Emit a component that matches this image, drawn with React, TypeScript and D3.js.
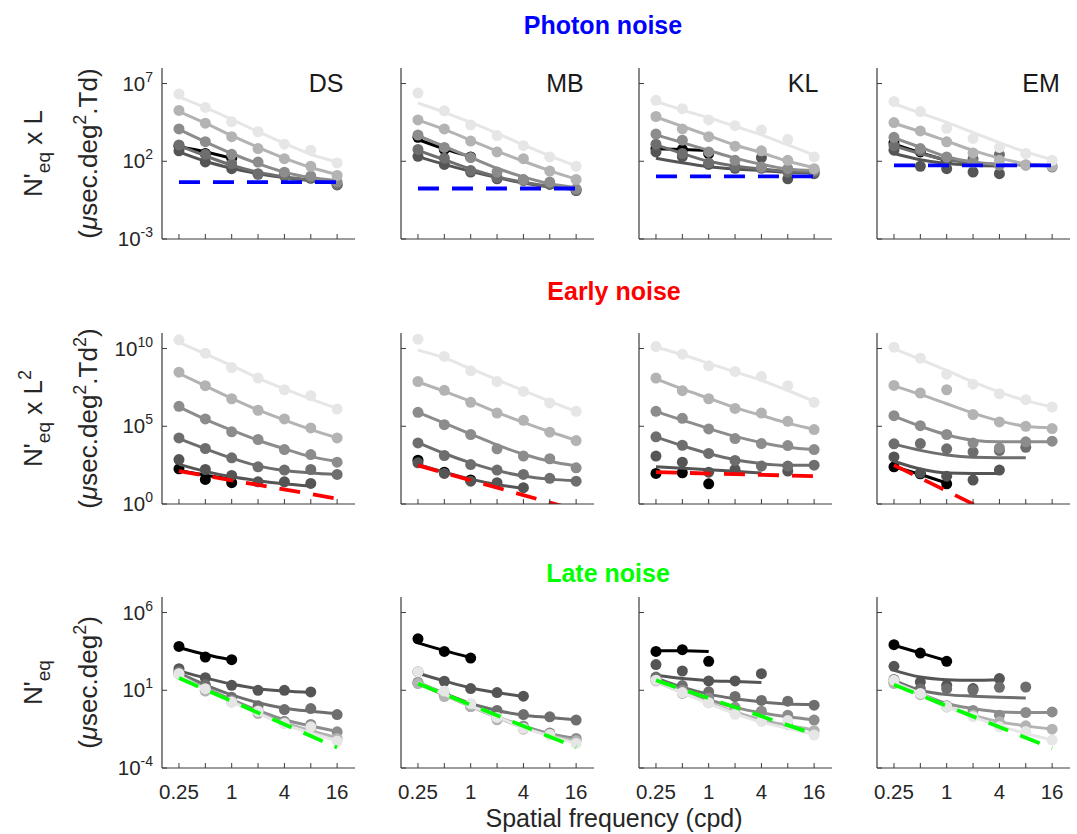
import React from "react";
import * as d3 from "d3";

// spatial frequencies (cpd) used on every panel
const FREQS = [0.25, 0.5, 1, 2, 4, 8, 16];
const FREQ_LABELS = ["0.25", "", "1", "", "4", "", "16"];
const SUBJECTS = ["DS", "MB", "KL", "EM"];
// luminance levels, darkest -> lightest
const SHADES = ["#000000", "#555555", "#6e6e6e", "#8c8c8c", "#b3b3b3", "#e6e6e6"];

const _ = null;

// all values are log10(N'eq ...), one array per luminance level
// ---- Photon noise ----
const dsPhotonDots = [
  [2.97, 2.5, 2.2, _, _, _, _],
  [2.67, 1.96, 1.52, 1.16, 1.1, 0.9, 0.48],
  [3.05, 2.45, 1.85, 1.2, 1.05, 0.95, 0.5],
  [4.08, 3.26, 2.45, 1.95, 1.3, 1.05, 0.66],
  [5.27, 4.45, 3.58, 2.82, 2.17, 1.68, 1.09],
  [6.33, 5.46, 4.55, 3.9, 3.1, 2.71, 1.89],
];
const dsPhotonFit = [
  [2.95, 2.6, 2.2, _, _, _, _],
  [2.6, 2.0, 1.55, 1.2, 0.95, 0.75, 0.6],
  [3.0, 2.35, 1.75, 1.3, 1.0, 0.8, 0.6],
  [4.05, 3.25, 2.5, 1.85, 1.3, 0.95, 0.75],
  [5.2, 4.45, 3.65, 2.9, 2.2, 1.6, 1.15],
  [6.15, 5.45, 4.7, 3.9, 3.15, 2.45, 1.95],
];
const mbPhotonDots = [
  [3.54, 2.76, 2.28, _, _, _, _],
  [2.32, 1.8, 1.31, 0.87, 0.81, 0.51, 0.12],
  [2.76, 2.2, 1.4, 0.95, 0.75, 0.55, 0.15],
  [3.69, 2.89, 2.24, 1.31, 0.81, 0.66, 0.23],
  [4.66, 4.08, 3.3, 2.6, 2.17, 1.37, 0.83],
  [6.39, 5.25, 4.34, 3.65, 3.0, 2.28, 1.68],
];
const mbPhotonFit = [
  [3.4, 2.8, 2.3, _, _, _, _],
  [2.3, 1.8, 1.35, 0.95, 0.6, 0.35, 0.2],
  [2.7, 2.1, 1.5, 1.0, 0.65, 0.4, 0.25],
  [3.65, 2.95, 2.25, 1.55, 1.0, 0.55, 0.3],
  [4.65, 4.05, 3.35, 2.65, 2.0, 1.4, 0.85],
  [5.75, 5.15, 4.5, 3.8, 3.05, 2.35, 1.7],
];
const klPhotonDots = [
  [2.82, 2.76, 2.5, _, _, _, _],
  [2.6, 2.3, 1.8, 1.55, 2.24, 0.87, 1.2],
  [3.1, 2.5, 1.9, 1.65, 1.55, 1.3, 1.3],
  [3.75, 3.36, 2.6, 2.06, 1.63, 1.52, 1.42],
  [4.88, 4.08, 3.58, 2.97, 2.67, 2.06, 1.52],
  [5.92, 5.38, 4.66, 4.29, 4.01, 3.41, 2.28],
];
const klPhotonFit = [
  [2.8, 2.75, 2.7, _, _, _, _],
  [2.2, 1.9, 1.65, 1.5, 1.4, 1.3, 1.25],
  [3.05, 2.5, 2.0, 1.7, 1.5, 1.35, 1.3],
  [3.7, 3.2, 2.7, 2.2, 1.8, 1.5, 1.4],
  [4.85, 4.25, 3.65, 3.05, 2.55, 2.0, 1.6],
  [5.85, 5.3, 4.8, 4.25, 3.7, 3.05, 2.4],
];
const emPhotonDots = [
  [3.19, 2.6, 2.06, _, _, _, _],
  [2.71, 1.68, 1.52, 1.31, 1.2, _, _],
  [3.0, 2.67, 2.2, 2.15, 2.43, _, _],
  [3.54, 2.82, 2.28, 1.9, 1.75, 1.75, 1.63],
  [4.49, 3.95, 3.25, 2.54, 2.06, 1.78, 1.7],
  [5.85, 5.2, 4.12, 3.47, 2.89, 2.5, 2.06],
];
const emPhotonFit = [
  [3.1, 2.55, 2.05, _, _, _, _],
  [2.5, 2.1, 1.85, 1.75, 1.7, _, _],
  [3.0, 2.5, 2.1, 1.9, 1.8, _, _],
  [3.5, 2.9, 2.3, 1.95, 1.8, 1.75, 1.7],
  [4.45, 3.9, 3.3, 2.7, 2.2, 1.85, 1.7],
  [5.7, 5.1, 4.5, 3.85, 3.2, 2.6, 2.1],
];

// ---- Early noise ----
const dsEarlyDots = [
  [2.26, 1.58, 1.37, _, _, _, _],
  [2.86, 2.22, 1.84, 1.43, 1.43, 1.32, _],
  [4.25, 3.57, 2.97, 2.39, 2.18, 2.22, 1.9],
  [6.28, 5.47, 4.64, 4.15, 3.5, 3.18, 2.69],
  [8.48, 7.61, 6.77, 6.03, 5.47, 4.89, 4.25],
  [10.56, 9.7, 8.78, 8.1, 7.35, 6.97, 6.11],
];
const dsEarlyFit = [
  [2.15, 1.85, 1.6, _, _, _, _],
  [2.55, 2.1, 1.75, 1.5, 1.3, 1.15, _],
  [4.2, 3.55, 2.95, 2.45, 2.15, 2.0, 1.9],
  [6.25, 5.45, 4.75, 4.1, 3.55, 3.05, 2.75],
  [8.4, 7.6, 6.8, 6.05, 5.4, 4.8, 4.25],
  [10.4, 9.65, 8.9, 8.1, 7.4, 6.75, 6.15],
];
const mbEarlyDots = [
  [2.82, 2.05, 1.55, _, _, _, _],
  [2.65, 1.97, 1.47, 1.37, 1.05, _, _],
  [3.93, 3.12, 2.54, 2.18, 1.9, 1.65, 1.47],
  [5.9, 5.1, 4.47, 3.55, 3.08, 2.91, 2.33],
  [7.88, 7.31, 6.54, 5.85, 5.38, 4.62, 4.08],
  [10.6, 9.49, 8.57, 7.88, 7.24, 6.5, 5.96],
];
const mbEarlyFit = [
  [_, _, _, _, _, _, _],
  [2.55, 2.05, 1.6, 1.25, 1.0, _, _],
  [3.95, 3.25, 2.65, 2.15, 1.8, 1.6, 1.5],
  [5.9, 5.2, 4.5, 3.8, 3.2, 2.75, 2.45],
  [7.85, 7.25, 6.6, 5.9, 5.25, 4.65, 4.1],
  [9.9, 9.4, 8.7, 8.0, 7.3, 6.6, 5.95],
];
const klEarlyDots = [
  [1.97, 2.01, 1.3, _, _, _, _],
  [3.08, 2.69, 2.05, 2.22, _, 2.12, _],
  [4.32, 3.78, 3.25, 2.8, 2.44, 2.44, 2.5],
  [5.96, 5.51, 4.83, 4.21, 3.89, 3.76, 3.5],
  [8.1, 7.29, 6.77, 6.15, 5.85, 5.32, 4.79],
  [10.13, 9.64, 8.89, 8.53, 8.2, 7.61, 6.54],
];
const klEarlyFit = [
  [_, _, _, _, _, _, _],
  [2.4, 2.3, 2.2, 2.1, 2.0, _, _],
  [4.3, 3.75, 3.25, 2.85, 2.6, 2.5, 2.5],
  [5.95, 5.4, 4.85, 4.35, 3.95, 3.65, 3.5],
  [8.05, 7.4, 6.8, 6.2, 5.7, 5.2, 4.8],
  [10.1, 9.6, 9.05, 8.5, 7.95, 7.3, 6.6],
];
const emEarlyDots = [
  [2.39, 1.94, 1.3, _, _, _, _],
  [3.03, 2.0, 1.79, 1.54, 2.18, _, _],
  [3.87, 3.89, 3.55, 3.35, 3.44, 3.65, _],
  [5.68, 5.04, 4.47, 3.93, 3.61, 4.0, 4.04],
  [7.63, 7.14, 7.35, 5.75, 5.28, 5.0, 4.85],
  [10.09, 9.38, 8.35, 7.71, 7.09, 6.71, 6.24],
];
const emEarlyFit = [
  [2.4, 1.9, 1.35, _, _, _, _],
  [2.75, 2.25, 2.0, 1.97, 1.97, _, _],
  [3.85, 3.45, 3.15, 3.0, 2.97, 2.97, _],
  [5.65, 5.0, 4.45, 4.1, 4.0, 4.0, 4.0],
  [7.6, 7.05, 6.45, 5.85, 5.35, 5.0, 4.9],
  [10.0, 9.3, 8.6, 7.85, 7.2, 6.65, 6.25],
];

// ---- Late noise ----
const dsLateDots = [
  [3.82, 3.14, 2.97, _, _, _, _],
  [2.39, 1.81, 1.32, 1.0, 1.0, 0.89, _],
  [2.2, 1.35, 0.55, 0.0, -0.24, -0.18, -0.56],
  [2.1, 1.0, 0.35, -0.3, -1.0, -1.2, -1.67],
  [2.05, 0.95, 0.25, -0.5, -1.1, -1.5, -2.1],
  [2.07, 1.1, 0.25, -0.35, -1.14, -1.35, -2.27],
];
const dsLateFit = [
  [3.75, 3.3, 2.95, _, _, _, _],
  [2.25, 1.8, 1.4, 1.1, 0.95, 0.85, _],
  [2.1, 1.35, 0.7, 0.2, -0.15, -0.35, -0.5],
  [2.0, 1.15, 0.4, -0.3, -0.9, -1.3, -1.65],
  [1.95, 1.1, 0.3, -0.45, -1.1, -1.6, -2.05],
  [1.95, 1.05, 0.25, -0.5, -1.2, -1.75, -2.25],
];
const mbLateDots = [
  [4.31, 3.5, 3.07, _, _, _, _],
  [2.18, 1.58, 1.11, 0.85, 0.62, _, _],
  [1.5, 0.7, 0.1, -0.3, -0.56, -0.71, -0.92],
  [1.45, 0.7, -0.05, -0.8, -1.3, -1.75, -2.1],
  [1.45, 0.6, -0.05, -0.9, -1.5, -1.85, -2.25],
  [2.18, 0.95, 0.15, -0.75, -1.45, -1.85, -2.42],
];
const mbLateFit = [
  [4.05, 3.55, 3.1, _, _, _, _],
  [2.1, 1.6, 1.15, 0.85, 0.6, _, _],
  [1.5, 0.8, 0.15, -0.3, -0.6, -0.75, -0.9],
  [1.45, 0.7, 0.0, -0.7, -1.3, -1.8, -2.1],
  [1.45, 0.7, -0.05, -0.75, -1.4, -1.9, -2.25],
  [1.5, 0.75, 0.0, -0.7, -1.4, -1.95, -2.4],
];
const klLateDots = [
  [3.5, 3.61, 2.86, _, _, _, _],
  [2.65, 2.24, 1.6, 1.6, 2.07, _, _],
  [1.85, 1.3, 0.9, 0.6, 0.35, 0.3, 0.04],
  [1.64, 1.0, 0.5, -0.1, -0.35, -0.6, -0.92],
  [1.6, 0.8, 0.2, -0.4, -0.9, -1.2, -1.6],
  [1.65, 0.85, 0.2, -0.55, -1.0, -0.95, -1.88],
];
const klLateFit = [
  [3.55, 3.55, 3.5, _, _, _, _],
  [1.96, 1.75, 1.62, 1.56, 1.5, _, _],
  [1.8, 1.2, 0.75, 0.45, 0.25, 0.12, 0.08],
  [1.6, 0.95, 0.4, -0.1, -0.45, -0.7, -0.9],
  [1.55, 0.85, 0.2, -0.4, -0.9, -1.25, -1.55],
  [1.6, 0.85, 0.15, -0.5, -1.05, -1.45, -1.85],
];
const emLateDots = [
  [3.93, 3.39, 2.86, _, _, _, _],
  [2.54, 1.53, 1.32, 1.11, 1.75, _, _],
  [1.7, 1.1, 1.1, 1.0, 1.19, 1.21, _],
  [1.5, 0.8, 0.0, -0.3, -0.6, -0.43, -0.39],
  [1.43, 0.72, -0.07, -0.6, -1.03, -1.29, -1.5],
  [1.64, 0.8, -0.05, -0.7, -1.35, -1.65, -2.2],
];
const emLateFit = [
  [3.9, 3.4, 2.9, _, _, _, _],
  [2.28, 1.85, 1.68, 1.64, 1.68, _, _],
  [1.64, 1.0, 0.72, 0.62, 0.55, 0.51, _],
  [1.53, 0.79, 0.15, -0.18, -0.39, -0.43, -0.43],
  [1.43, 0.72, -0.07, -0.6, -1.03, -1.29, -1.5],
  [1.49, 0.79, -0.07, -0.71, -1.29, -1.78, -2.2],
];

// noise floor lines: log10 value at 0.25 and at 16 cpd, per subject
const photonFloor = [[0.66, 0.66], [0.25, 0.25], [1.03, 1.03], [1.74, 1.74]];
const earlyFloor = [[2.12, 0.34], [2.48, -0.38], [2.05, 1.79], [2.5, -2.5]];
const lateFloor = [[1.79, -2.68], [1.43, -2.67], [1.64, -1.82], [1.36, -2.73]];

const ROWS = [
  {
    title: "Photon noise", color: "#0000ff", tx: 603, ty: 34,
    yExp: [-3, 8], yTicks: [-3, 2, 7], floor: photonFloor,
    dots: [dsPhotonDots, mbPhotonDots, klPhotonDots, emPhotonDots],
    fits: [dsPhotonFit, mbPhotonFit, klPhotonFit, emPhotonFit],
  },
  {
    title: "Early noise", color: "#ff0000", tx: 614, ty: 300,
    yExp: [0, 11], yTicks: [0, 5, 10], floor: earlyFloor,
    dots: [dsEarlyDots, mbEarlyDots, klEarlyDots, emEarlyDots],
    fits: [dsEarlyFit, mbEarlyFit, klEarlyFit, emEarlyFit],
  },
  {
    title: "Late noise", color: "#00ff00", tx: 608, ty: 582,
    yExp: [-4, 7], yTicks: [-4, 1, 6], floor: lateFloor,
    dots: [dsLateDots, mbLateDots, klLateDots, emLateDots],
    fits: [dsLateFit, mbLateFit, klLateFit, emLateFit],
  },
];

const W = 1077;
const H = 834;
const PANEL_LEFT = [162, 401, 639, 877];
const PANEL_W = 193;
const ROW_TOP = [68, 333, 597];
const PANEL_H = 171;
const FONT = "'Liberation Sans', Arial, Helvetica, sans-serif";
const AXIS = "#3a3a3a";

function YLabel({ row, cy }: { row: number; cy: number }) {
  const sub = { fontSize: 19 };
  const sup = { fontSize: 18 };
  return (
    <g fontFamily={FONT} fontSize={26} fill="#262626">
      <text transform={`translate(42,${cy}) rotate(-90)`} textAnchor="middle">
        <tspan>N'</tspan>
        <tspan dy={8} style={sub}>eq</tspan>
        {row === 2 ? null : <tspan dy={-8}> x L</tspan>}
        {row === 1 ? <tspan dy={-11} style={sup}>2</tspan> : null}
      </text>
      <text transform={`translate(97,${cy}) rotate(-90)`} textAnchor="middle">
        <tspan>(</tspan>
        <tspan fontStyle="italic">μ</tspan>
        <tspan>sec.deg</tspan>
        <tspan dy={-11} style={sup}>2</tspan>
        {row === 2 ? (
          <tspan dy={11}>)</tspan>
        ) : (
          <tspan dy={11}>.Td</tspan>
        )}
        {row === 1 ? <tspan dy={-11} style={sup}>2</tspan> : null}
        {row === 1 ? <tspan dy={11}>)</tspan> : null}
        {row === 0 ? <tspan>)</tspan> : null}
      </text>
    </g>
  );
}

function Panel({ row, col }: { row: number; col: number }) {
  const cfg = ROWS[row];
  const left = PANEL_LEFT[col];
  const top = ROW_TOP[row];
  const bottom = top + PANEL_H;
  const right = left + PANEL_W;

  const x = d3.scaleLog().domain([0.16, 25.6]).range([left, right]);
  const y = d3
    .scaleLog()
    .domain([Math.pow(10, cfg.yExp[0]), Math.pow(10, cfg.yExp[1])])
    .range([bottom, top]);
  const yv = (v: number) => y(Math.pow(10, v));

  const dots = cfg.dots[col];
  const fits = cfg.fits[col];
  const floor = cfg.floor[col];
  const clipId = `clip-${row}-${col}`;

  const line = d3
    .line<number | null>()
    .defined((d) => d != null)
    .x((_d, i) => x(FREQS[i]))
    .y((d) => yv(d as number))
    .curve(d3.curveMonotoneX);

  return (
    <g>
      <defs>
        <clipPath id={clipId}>
          <rect x={left} y={top} width={PANEL_W} height={PANEL_H} />
        </clipPath>
      </defs>
      <g clipPath={`url(#${clipId})`}>
        {fits.map((f, k) => (
          <g key={k}>
            <path d={line(f) || ""} fill="none" stroke={SHADES[k]} strokeWidth={3} />
            {dots[k].map((v, i) =>
              v == null ? null : (
                <circle key={i} cx={x(FREQS[i])} cy={yv(v)} r={5.5} fill={SHADES[k]} />
              )
            )}
          </g>
        ))}
        <line
          x1={x(FREQS[0])}
          x2={x(FREQS[6])}
          y1={yv(floor[0])}
          y2={yv(floor[1])}
          stroke={cfg.color}
          strokeWidth={3.8}
          strokeDasharray="21 13"
        />
      </g>
      {/* axes */}
      <line x1={left} x2={left} y1={top} y2={bottom} stroke={AXIS} strokeWidth={1.2} />
      <line x1={left} x2={right} y1={bottom} y2={bottom} stroke={AXIS} strokeWidth={1.2} />
      {FREQS.map((f, i) => (
        <g key={i}>
          <line x1={x(f)} x2={x(f)} y1={bottom} y2={bottom - 5} stroke={AXIS} strokeWidth={1} />
          {row === 2 && FREQ_LABELS[i] ? (
            <text x={x(f)} y={bottom + 31} textAnchor="middle" fontFamily={FONT} fontSize={20.5} fill="#262626">
              {FREQ_LABELS[i]}
            </text>
          ) : null}
        </g>
      ))}
      {cfg.yTicks.map((e) => (
        <g key={e}>
          <line x1={left} x2={left + 5} y1={yv(e)} y2={yv(e)} stroke={AXIS} strokeWidth={1} />
          {col === 0 ? (
            <text x={153} y={yv(e) + 7} textAnchor="end" fontFamily={FONT} fontSize={20.5} fill="#262626">
              <tspan>10</tspan>
              <tspan dy={-9} fontSize={14}>{String(e)}</tspan>
            </text>
          ) : null}
        </g>
      ))}
      {row === 0 ? (
        <text x={left + 164} y={92} textAnchor="middle" fontFamily={FONT} fontSize={25} fill="#1a1a1a">
          {SUBJECTS[col]}
        </text>
      ) : null}
    </g>
  );
}

export default function App() {
  return (
    <svg
      width={W}
      height={H}
      style={{ position: "absolute", left: 0, top: 0, background: "#fff" }}
    >
      <rect width={W} height={H} fill="#fff" />
      {ROWS.map((r, ri) => (
        <g key={ri}>
          <text x={r.tx} y={r.ty} textAnchor="middle" fontFamily={FONT} fontSize={25} fontWeight="bold" fill={r.color}>
            {r.title}
          </text>
          <YLabel row={ri} cy={ROW_TOP[ri] + PANEL_H / 2} />
          {SUBJECTS.map((s, ci) => (
            <Panel key={s} row={ri} col={ci} />
          ))}
        </g>
      ))}
      <text x={614} y={827} textAnchor="middle" fontFamily={FONT} fontSize={25} fill="#262626">
        Spatial frequency (cpd)
      </text>
    </svg>
  );
}
